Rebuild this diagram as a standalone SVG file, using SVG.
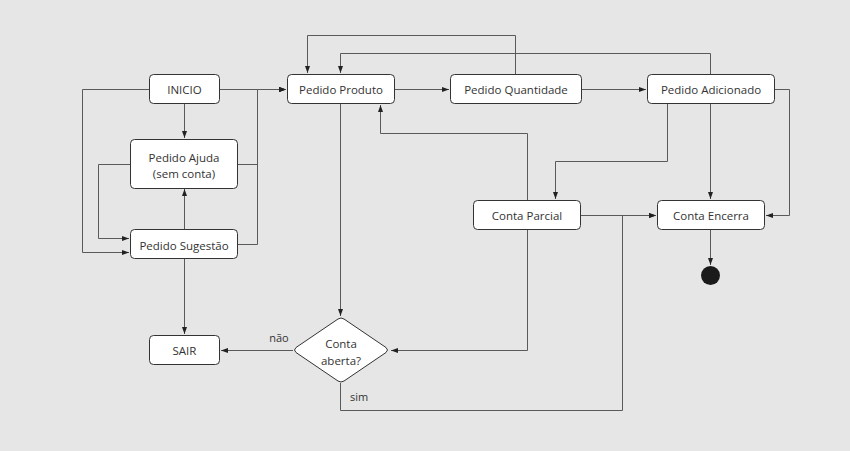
<svg xmlns="http://www.w3.org/2000/svg" width="850" height="451" viewBox="0 0 850 451">
<style>
.bg{fill:#e6e6e6}
.node{fill:#ffffff;stroke:#333333;stroke-width:1}
.lbl{font-family:"Open Sans","Liberation Sans",sans-serif;font-size:11.5px;fill:#333333;text-anchor:middle;dominant-baseline:central}
.edge{fill:none;stroke:#5a5a5a;stroke-width:1;marker-end:url(#arr)}
.elbl{font-family:"Open Sans","Liberation Sans",sans-serif;font-size:11px;fill:#333333;text-anchor:middle;dominant-baseline:central}
</style>
<defs>
<marker id="arr" markerUnits="userSpaceOnUse" markerWidth="8" markerHeight="8" refX="7" refY="3" orient="auto">
<path d="M0,0.5 L7,3 L0,5.5 z" fill="#222222"/>
</marker>
</defs>
<rect class="bg" x="0" y="0" width="850" height="451"/>
<g id="connectors">
<path class="edge" d="M184.5,104 V138"/>
<path class="edge" d="M149,89.5 H82.5 V252.5 H129"/>
<path class="edge" d="M130,164.5 H98.5 V238.5 H129"/>
<path class="edge" d="M184.5,229 V189"/>
<path class="edge" d="M219,89.5 H286"/>
<path class="edge" d="M238,164.5 H257.5 V89.5 H286"/>
<path class="edge" d="M238,244.5 H257.5 V89.5 H286"/>
<path class="edge" d="M184.5,259 V334"/>
<path class="edge" d="M395,89.5 H449"/>
<path class="edge" d="M581,89.5 H646"/>
<path class="edge" d="M515.5,74 V35.5 H307.5 V73"/>
<path class="edge" d="M710.5,74 V53.5 H340.5 V73"/>
<path class="edge" d="M667.5,104 V161.5 H555.5 V199"/>
<path class="edge" d="M710.5,104 V199"/>
<path class="edge" d="M775,89.5 H789.5 V215.5 H766"/>
<path class="edge" d="M581,215.5 H656"/>
<path class="edge" d="M527.5,200 V133.5 H380.5 V105"/>
<path class="edge" d="M527.5,229 V350.5 H391"/>
<path class="edge" d="M340.5,104 V316"/>
<path class="edge" d="M293,350.5 H221"/>
<path class="edge" d="M340.5,383 V410.5 H622.5 V215.5 H656"/>
<path class="edge" d="M710.5,229 V265"/>
<text class="elbl" x="279" y="337">não</text>
<text class="elbl" x="359" y="396">sim</text>
</g>
<g id="inicio"><rect class="node" x="149.5" y="74.5" width="70" height="29" rx="4"/><text class="lbl" x="184.5" y="89.5">INICIO</text></g>
<g id="pedido-ajuda"><rect class="node" x="130.5" y="139.5" width="107" height="49" rx="4"/><text class="lbl" x="184" y="157.5">Pedido Ajuda</text><text class="lbl" x="184" y="173.5">(sem conta)</text></g>
<g id="pedido-sugestao"><rect class="node" x="130.5" y="229.5" width="107" height="29" rx="4"/><text class="lbl" x="184" y="245">Pedido Sugestão</text></g>
<g id="sair"><rect class="node" x="149.5" y="335.5" width="70" height="29" rx="4"/><text class="lbl" x="184.5" y="350.5">SAIR</text></g>
<g id="pedido-produto"><rect class="node" x="287.5" y="74.5" width="107" height="29" rx="4"/><text class="lbl" x="341" y="89.5">Pedido Produto</text></g>
<g id="pedido-quantidade"><rect class="node" x="450.5" y="74.5" width="131" height="29" rx="4"/><text class="lbl" x="516" y="89.5">Pedido Quantidade</text></g>
<g id="pedido-adicionado"><rect class="node" x="647.5" y="74.5" width="127" height="29" rx="4"/><text class="lbl" x="711" y="89.5">Pedido Adicionado</text></g>
<g id="conta-parcial"><rect class="node" x="473.5" y="200.5" width="107" height="29" rx="4"/><text class="lbl" x="527" y="215">Conta Parcial</text></g>
<g id="conta-encerra"><rect class="node" x="657.5" y="200.5" width="107" height="29" rx="4"/><text class="lbl" x="711" y="215">Conta Encerra</text></g>
<g id="conta-aberta"><path class="node" d="M338,319 Q341,317 344,319 L386,347.5 Q389,350 386,352.5 L344,381 Q341,383 338,381 L296,352.5 Q293,350 296,347.5 Z"/><text class="lbl" x="341" y="343">Conta</text><text class="lbl" x="341" y="360">aberta?</text></g>
<g id="fim"><circle cx="710.5" cy="275.5" r="9.5" fill="#1a1a1a"/></g>
</svg>
